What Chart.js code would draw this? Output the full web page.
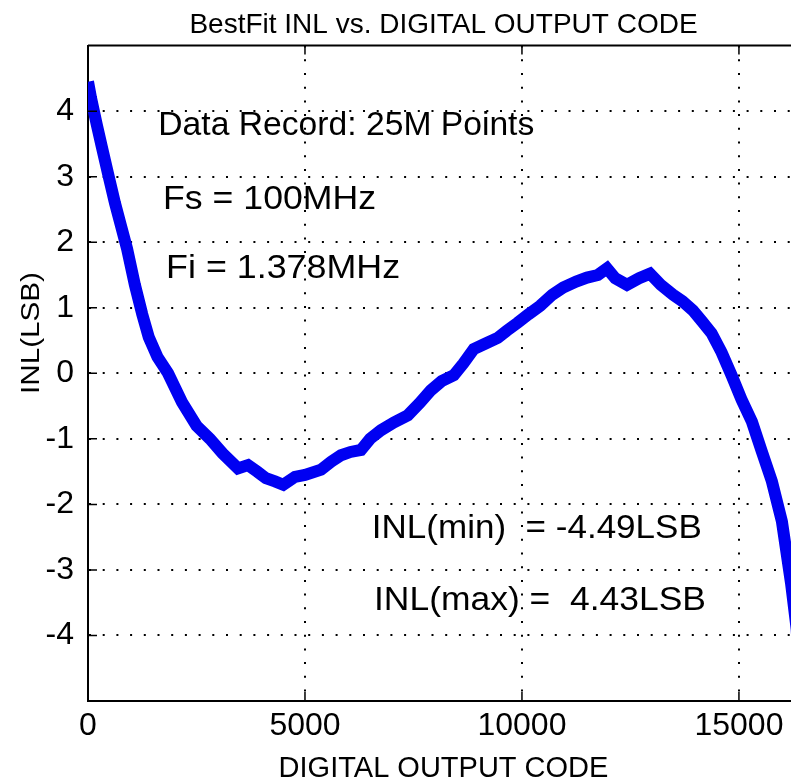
<!DOCTYPE html>
<html>
<head>
<meta charset="utf-8">
<script src="https://cdn.jsdelivr.net/npm/chart.js@4/dist/chart.umd.min.js"></script>
<style>
  html, body { margin: 0; padding: 0; background: #fff; overflow: hidden; }
  #wrap { position: absolute; left: 0; top: 0; width: 820px; height: 786px; }
</style>
</head>
<body>
<div id="wrap"><canvas id="chart" width="820" height="786"></canvas></div>
<script>
// INL curve (code -> LSB)
const codes = [
  0, 70, 200, 320, 460, 620, 760, 900, 1080, 1250, 1400, 1600, 1845,
  2165, 2500, 2810, 3100, 3456, 3687, 3900, 4100, 4309, 4500, 4770, 5000,
  5370, 5600, 5830, 6050, 6290, 6500, 6750, 7050, 7370, 7650, 7900, 8150,
  8430, 8650, 8890, 9150, 9440, 9650, 9900, 10150, 10420, 10700, 10950,
  11250, 11500, 11750, 11960, 12150, 12420, 12700, 12950, 13200, 13480,
  13700, 13940, 14140, 14370, 14600, 14830, 15060, 15300, 15530, 15760,
  15990, 16200, 16330, 16383
];
const inl = [
  4.45, 4.2, 3.8, 3.45, 3.05, 2.6, 2.25, 1.9, 1.35, 0.9, 0.55, 0.25, 0.0,
  -0.44, -0.8, -1.0, -1.22, -1.45, -1.4, -1.5, -1.6, -1.65, -1.7, -1.58, -1.55,
  -1.47, -1.35, -1.25, -1.2, -1.17, -1.0, -0.87, -0.75, -0.64, -0.45, -0.26, -0.12,
  -0.03, 0.15, 0.37, 0.45, 0.54, 0.65, 0.77, 0.9, 1.03, 1.2, 1.31,
  1.4, 1.46, 1.5, 1.6, 1.45, 1.35, 1.45, 1.52, 1.35, 1.2,
  1.1, 0.96, 0.8, 0.61, 0.32, -0.03, -0.4, -0.74, -1.2, -1.65,
  -2.26, -3.2, -3.9, -4.49
];
const xTicks = [0, 5000, 10000, 15000];
const yTicks = [-4, -3, -2, -1, 0, 1, 2, 3, 4];

const notes = [
  { text: "Data Record: 25M Points", x: 1620, y: 3.64, w: 376 },
  { text: "Fs = 100MHz", x: 1730, y: 2.51, w: 213 },
  { text: "Fi = 1.378MHz", x: 1800, y: 1.46, w: 234 },
  { text: "INL(min)  = -4.49LSB", x: 6540, y: -2.51, w: 330 },
  { text: "INL(max) =  4.43LSB", x: 6590, y: -3.61, w: 332 }
];

const FONT = "'Liberation Sans', Arial, sans-serif";

// text fitted to the width it has in the picture
function fitted(ctx, text, x, y, size, width, align) {
  ctx.save();
  ctx.font = size + "px " + FONT;
  const natural = ctx.measureText(text).width;
  ctx.translate(x, y);
  ctx.scale(width / natural, 1);
  ctx.textAlign = align || "left";
  ctx.textBaseline = "alphabetic";
  ctx.fillStyle = "#000";
  ctx.fillText(text, 0, 0);
  ctx.restore();
}

const framePlugin = {
  id: "frame",
  afterDraw(chart) {
    const { ctx, chartArea: a, scales } = chart;
    ctx.save();
    ctx.strokeStyle = "#000";
    ctx.lineWidth = 2;
    ctx.beginPath();
    ctx.moveTo(a.left, a.top);
    ctx.lineTo(a.right, a.top);
    ctx.lineTo(a.right, a.bottom);
    ctx.stroke();
    // inward tick marks
    ctx.lineWidth = 1.5;
    ctx.beginPath();
    xTicks.forEach(v => {
      const px = scales.x.getPixelForValue(v);
      ctx.moveTo(px, a.bottom); ctx.lineTo(px, a.bottom - 9);
      ctx.moveTo(px, a.top); ctx.lineTo(px, a.top + 9);
    });
    yTicks.forEach(v => {
      const py = scales.y.getPixelForValue(v);
      ctx.moveTo(a.left, py); ctx.lineTo(a.left + 9, py);
    });
    ctx.stroke();
    ctx.restore();

    notes.forEach(n => {
      fitted(ctx, n.text, scales.x.getPixelForValue(n.x), scales.y.getPixelForValue(n.y), 33, n.w);
    });

    // y axis title, rotated
    ctx.save();
    ctx.translate(30, 333);
    ctx.rotate(-Math.PI / 2);
    fitted(ctx, "INL(LSB)", 0, 9, 26, 122, "center");
    ctx.restore();
  }
};

new Chart(document.getElementById("chart"), {
  type: "line",
  data: {
    datasets: [{
      label: "INL",
      data: codes.map((c, i) => ({ x: c, y: inl[i] })),
      borderColor: "#0000f2",
      borderWidth: 12,
      pointRadius: 0,
      tension: 0,
      borderJoinStyle: "miter",
      borderCapStyle: "butt"
    }]
  },
  options: {
    responsive: false,
    animation: false,
    layout: { padding: { top: 2, left: 0, right: 21, bottom: 0 } },
    plugins: {
      legend: { display: false },
      tooltip: { enabled: false },
      title: {
        display: true,
        fullSize: false,
        text: "BestFit INL vs. DIGITAL OUTPUT CODE",
        color: "#000",
        font: { family: FONT, size: 28, weight: "normal" },
        padding: { top: 6, bottom: 4 }
      }
    },
    scales: {
      x: {
        type: "linear",
        min: 0,
        max: 16384,
        afterBuildTicks: s => { s.ticks = xTicks.map(v => ({ value: v })); },
        afterFit: s => { s.height = 85; },
        ticks: {
          color: "#000", font: { family: FONT, size: 32 }, padding: 6,
          maxRotation: 0, autoSkip: false, callback: v => String(v)
        },
        grid: { color: "#000", lineWidth: 2, drawTicks: false },
        border: { color: "#000", width: 2, dash: [2, 11.7] },
        title: {
          display: true,
          text: "DIGITAL OUTPUT CODE",
          color: "#000",
          font: { family: FONT, size: 29 },
          padding: { top: 0, bottom: 0 }
        }
      },
      y: {
        min: -5,
        max: 5,
        afterBuildTicks: s => { s.ticks = yTicks.map(v => ({ value: v })); },
        afterFit: s => { s.width = 88; },
        ticks: { color: "#000", font: { family: FONT, size: 32 }, padding: 14, callback: v => String(v) },
        grid: { color: "#000", lineWidth: 2, drawTicks: false },
        border: { color: "#000", width: 2, dash: [2, 11.7] }
      }
    }
  },
  plugins: [framePlugin]
});
</script>
</body>
</html>
